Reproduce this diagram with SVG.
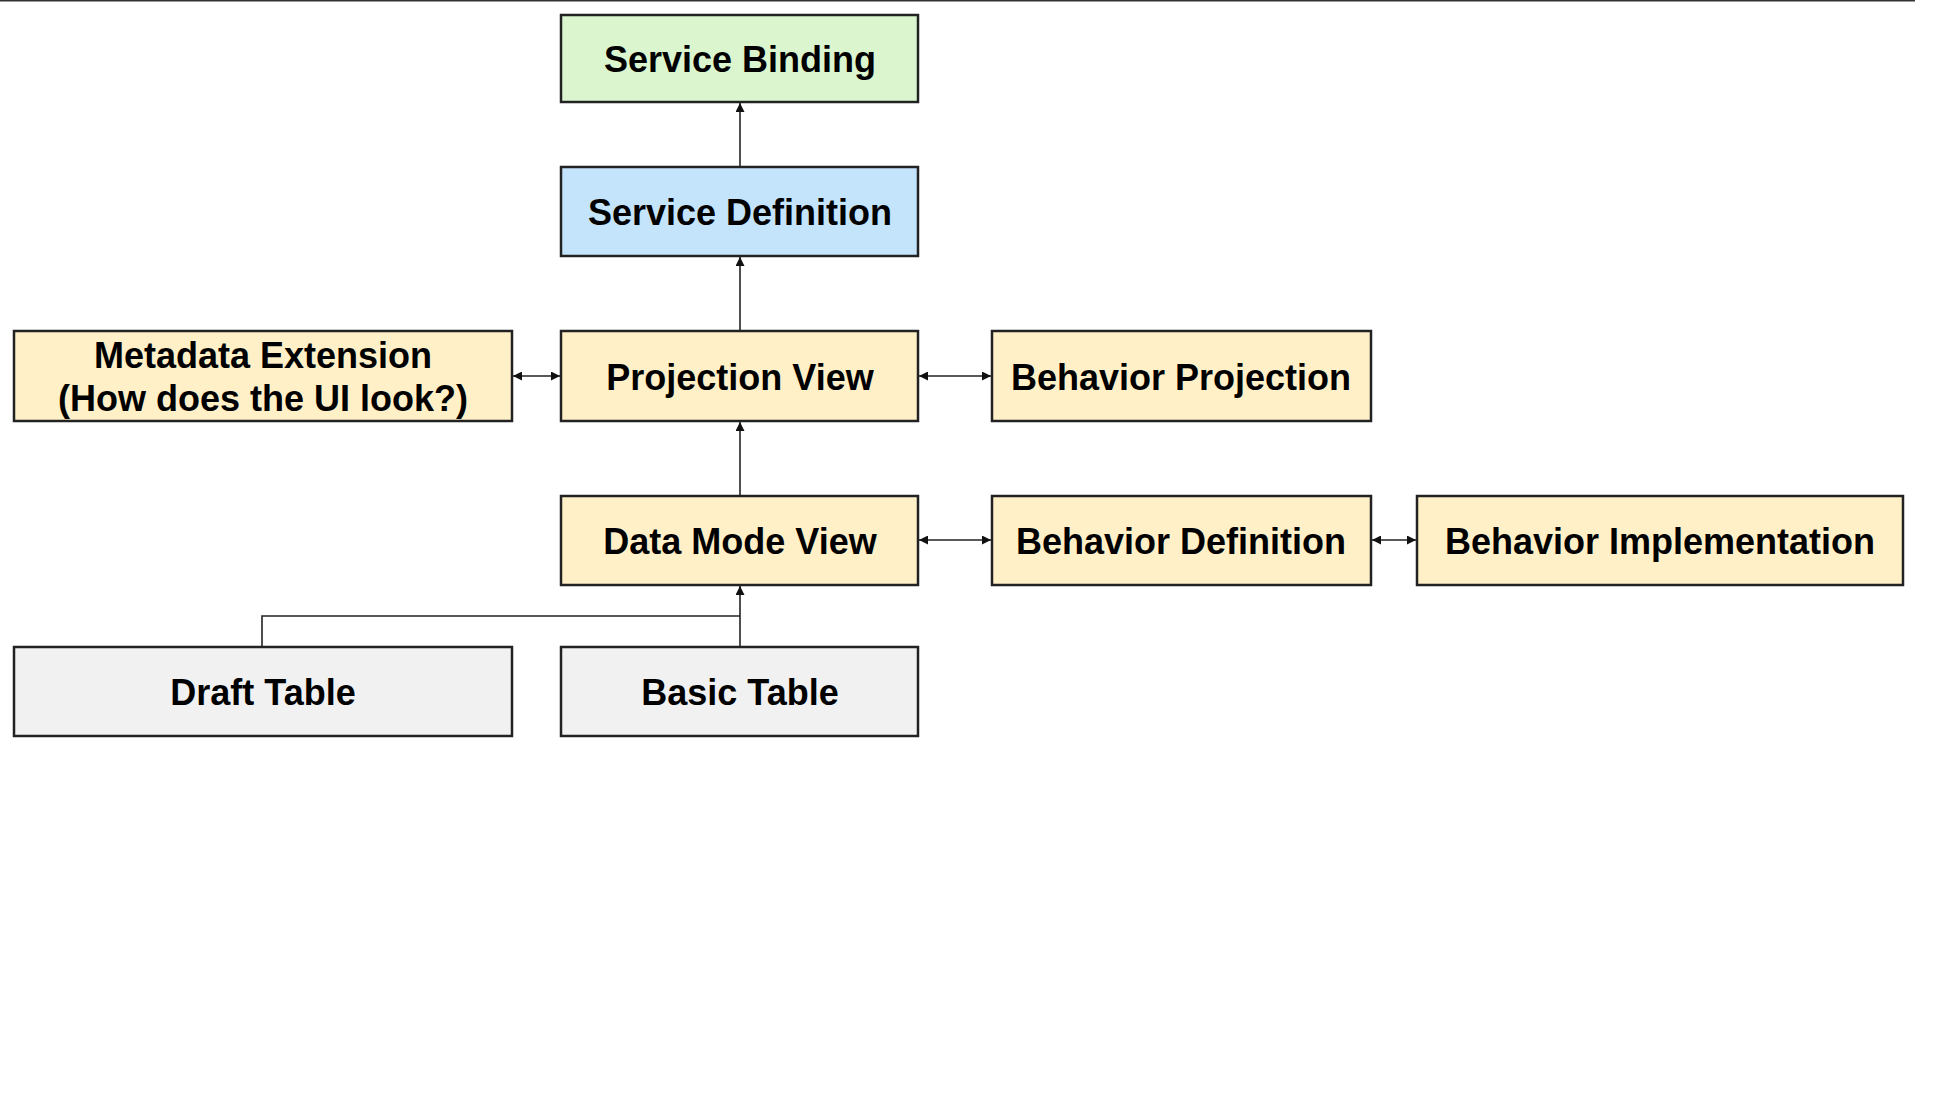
<svg xmlns="http://www.w3.org/2000/svg" width="1959" height="1102" viewBox="0 0 1959 1102">
<style>
.box{stroke:#222;stroke-width:2.5}
.green{fill:#dbf6cf}
.blue{fill:#c4e4fb}
.yellow{fill:#fff0c8}
.gray{fill:#f1f1f1}
.t{font-family:"Liberation Sans",Arial,sans-serif;font-weight:bold;font-size:36px;fill:#000;text-anchor:middle}
.c{fill:none;stroke:#222;stroke-width:1.6}
</style>
<defs>
<marker id="ah" viewBox="0 0 10 10" refX="10" refY="5" markerWidth="10" markerHeight="9" orient="auto-start-reverse" markerUnits="userSpaceOnUse">
<path d="M0,0 L10,5 L0,10 z" fill="#111"/>
</marker>
</defs>
<rect width="1959" height="1102" fill="#fff"/>
<line x1="0" y1="0.5" x2="1915" y2="0.5" stroke="#333" stroke-width="2"/>
<g id="connectors">
<line class="c" x1="740" y1="167" x2="740" y2="103" marker-end="url(#ah)"/>
<line class="c" x1="740" y1="331" x2="740" y2="257" marker-end="url(#ah)"/>
<line class="c" x1="740" y1="496" x2="740" y2="422" marker-end="url(#ah)"/>
<line class="c" x1="740" y1="647" x2="740" y2="586" marker-end="url(#ah)"/>
<polyline class="c" points="262,647 262,616 740,616" stroke="#555"/>
<line class="c" x1="513" y1="376" x2="560" y2="376" marker-start="url(#ah)" marker-end="url(#ah)"/>
<line class="c" x1="919" y1="376" x2="991" y2="376" marker-start="url(#ah)" marker-end="url(#ah)"/>
<line class="c" x1="919" y1="540" x2="991" y2="540" marker-start="url(#ah)" marker-end="url(#ah)"/>
<line class="c" x1="1372" y1="540" x2="1416" y2="540" marker-start="url(#ah)" marker-end="url(#ah)"/>
</g>
<g id="service-binding">
<rect class="box green" x="561" y="15" width="357" height="87"/>
<text class="t" x="740" y="72">Service Binding</text>
</g>
<g id="service-definition">
<rect class="box blue" x="561" y="167" width="357" height="89"/>
<text class="t" x="740" y="225">Service Definition</text>
</g>
<g id="metadata-extension">
<rect class="box yellow" x="14" y="331" width="498" height="90"/>
<text class="t" x="263" y="368">Metadata Extension</text>
<text class="t" x="263" y="411">(How does the UI look?)</text>
</g>
<g id="projection-view">
<rect class="box yellow" x="561" y="331" width="357" height="90"/>
<text class="t" x="740" y="390">Projection View</text>
</g>
<g id="behavior-projection">
<rect class="box yellow" x="992" y="331" width="379" height="90"/>
<text class="t" x="1181" y="390">Behavior Projection</text>
</g>
<g id="data-mode-view">
<rect class="box yellow" x="561" y="496" width="357" height="89"/>
<text class="t" x="740" y="554">Data Mode View</text>
</g>
<g id="behavior-definition">
<rect class="box yellow" x="992" y="496" width="379" height="89"/>
<text class="t" x="1181" y="554">Behavior Definition</text>
</g>
<g id="behavior-implementation">
<rect class="box yellow" x="1417" y="496" width="486" height="89"/>
<text class="t" x="1660" y="554">Behavior Implementation</text>
</g>
<g id="draft-table">
<rect class="box gray" x="14" y="647" width="498" height="89"/>
<text class="t" x="263" y="705">Draft Table</text>
</g>
<g id="basic-table">
<rect class="box gray" x="561" y="647" width="357" height="89"/>
<text class="t" x="740" y="705">Basic Table</text>
</g>
</svg>
